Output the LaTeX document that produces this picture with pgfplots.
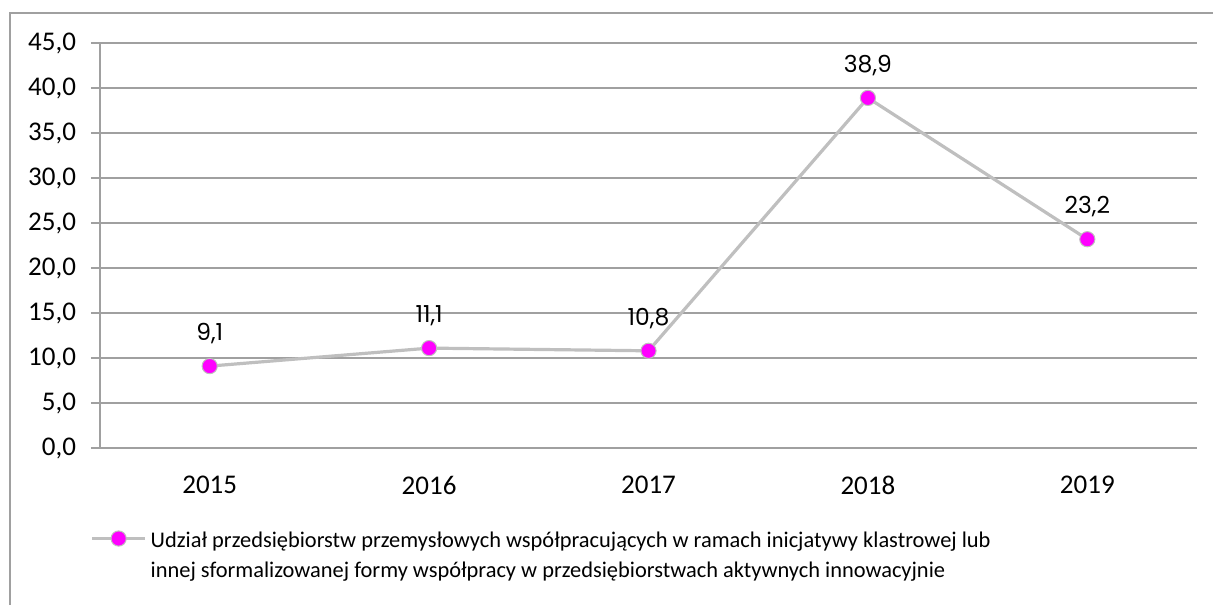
\documentclass[border=0pt]{standalone}
\usepackage{fontspec}
\setmainfont{Carlito}
\newfontfamily\labfont{Poppins}
\usepackage{pgfplots}
\pgfplotsset{compat=1.18}
\definecolor{gridgray}{HTML}{A0A0A0}
\definecolor{linegray}{HTML}{BFBFBF}
\definecolor{mag}{HTML}{FF00FF}
\begin{document}
\begin{tikzpicture}
% picture frame, 1px = 0.5pt
\begin{scope}[x=0.5pt,y=-0.5pt]
\useasboundingbox (0,0) rectangle (1213,605);
\draw[gridgray,line width=0.8pt] (10,605) -- (10,13) -- (1213,13);
\end{scope}
\begin{axis}[
  at={(50pt,-224pt)}, anchor=south west,
  scale only axis, width=548.5pt, height=202.5pt,
  xmin=-0.5, xmax=4.5, ymin=0, ymax=45,
  axis lines*=left,
  axis line style={gridgray, line width=0.6pt},
  ytick={0,5,...,45},
  xtick={0,...,4}, xticklabels={2015,2016,2017,2018,2019},
  minor xtick={-0.5,0.5,...,4.5},
  tick align=outside,
  major tick length=4.5pt, minor tick length=4pt,
  xtick style={draw=none},
  minor x tick style={gridgray, line width=0.6pt},
  ytick style={gridgray, line width=0.6pt},
  ymajorgrids, grid style={gridgray, line width=0.6pt},
  /pgf/number format/.cd, use comma, fixed, precision=1, assume math mode=true,
  /pgfplots/.cd,
  tick label style={font=\fontsize{13.5}{16}\selectfont},
  yticklabel style={/pgf/number format/fixed zerofill, xshift=-4pt},
  xticklabel style={yshift=-6pt},
  nodes near coords,
  every node near coord/.append style={font=\labfont\fontsize{11.7}{13}\selectfont, black, yshift=7.5pt},
  legend style={draw=none, at={(-0.009,-0.183)}, anchor=north west, inner sep=0pt,
    font=\fontsize{11.2}{15}\selectfont},
  legend cell align=left,
  legend image code/.code={\draw[mark repeat=2,mark phase=2,#1] plot coordinates {(0pt,0pt)(13.25pt,0pt)(26.5pt,0pt)};},
]
\addplot[linegray, line width=1.6pt, mark=*, mark size=3.8pt,
  mark options={fill=mag, draw=linegray, line width=0.5pt}]
  coordinates {(0,9.1) (1,11.1) (2,10.8) (3,38.9) (4,23.2)};
\legend{\begin{tabular}[t]{@{}l@{}}Udział przedsiębiorstw przemysłowych współpracujących w ramach inicjatywy klastrowej lub\\innej sformalizowanej formy współpracy w przedsiębiorstwach aktywnych innowacyjnie\end{tabular}}
\end{axis}
\end{tikzpicture}
\end{document}
